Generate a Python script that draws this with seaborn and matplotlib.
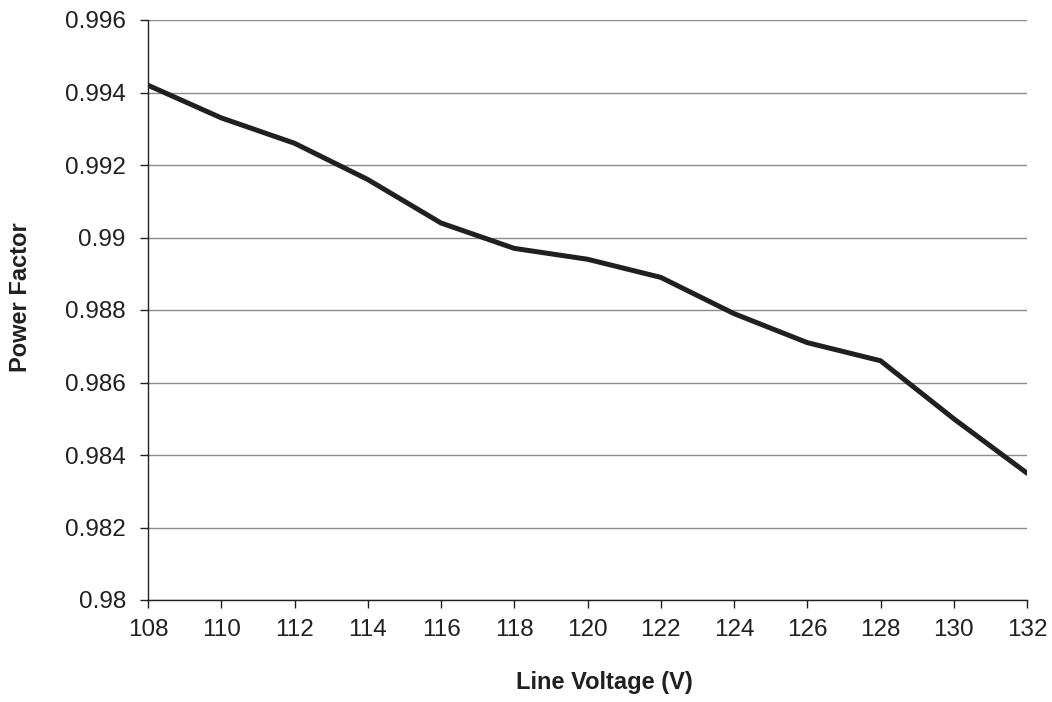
import matplotlib
matplotlib.use("Agg")
import matplotlib.pyplot as plt
import seaborn as sns
import pandas as pd

voltage = [108, 110, 112, 114, 116, 118, 120, 122, 124, 126, 128, 130, 132]
power_factor = [0.9942, 0.9933, 0.9926, 0.9916, 0.9904, 0.9897, 0.9894,
                0.9889, 0.9879, 0.9871, 0.9866, 0.9850, 0.9835]
y_ticks = [0.98, 0.982, 0.984, 0.986, 0.988, 0.99, 0.992, 0.994, 0.996]
y_tick_labels = ["0.98", "0.982", "0.984", "0.986", "0.988", "0.99", "0.992", "0.994", "0.996"]
x_ticks = list(range(108, 133, 2))

sns.set_style("white")
plt.rcParams['font.family'] = ['Liberation Sans', 'DejaVu Sans']

df = pd.DataFrame({"Line Voltage (V)": voltage, "Power Factor": power_factor})

W, H = 1052, 702
fig = plt.figure(figsize=(W / 100, H / 100), dpi=100)
ax = fig.add_axes([148 / W, 1 - 600 / H, (1027 - 148) / W, (600 - 20) / H])
sns.lineplot(data=df, x="Line Voltage (V)", y="Power Factor", ax=ax,
             color="#231f20", linewidth=3.6, zorder=3)

ax.set_xlim(108, 132)
ax.set_ylim(0.98, 0.996)
ax.set_xticks(x_ticks)
ax.set_xticklabels([str(v) for v in x_ticks])
ax.set_yticks(y_ticks)
ax.set_yticklabels(y_tick_labels)
ax.yaxis.grid(True, color="#8c8c8c", linewidth=1.0)
ax.xaxis.grid(False)
for s in ["top", "right"]:
    ax.spines[s].set_visible(False)
for s in ["left", "bottom"]:
    ax.spines[s].set_color("#231f20")
    ax.spines[s].set_linewidth(1.0)
ax.tick_params(axis="both", direction="out", width=1.0, color="#231f20",
               labelsize=17.5, labelcolor="#231f20", bottom=True, left=True)
ax.tick_params(axis="x", length=6, pad=7.5)
ax.tick_params(axis="y", length=6, pad=10)

ax.set_xlabel("Line Voltage (V)", fontsize=17, fontweight="bold", color="#231f20")
ax.set_ylabel("Power Factor", fontsize=17, fontweight="bold", color="#231f20")
# position axis labels (axes-fraction coordinates)
ax.xaxis.set_label_coords((604 - 148) / 879, -(683 - 600) / 580)
ax.xaxis.label.set_va("center")
ax.yaxis.set_label_coords((21 - 148) / 879, (600 - 297) / 580)
ax.yaxis.label.set_va("center")
ax.yaxis.label.set_ha("center")

fig.savefig("out.png", dpi=100)
